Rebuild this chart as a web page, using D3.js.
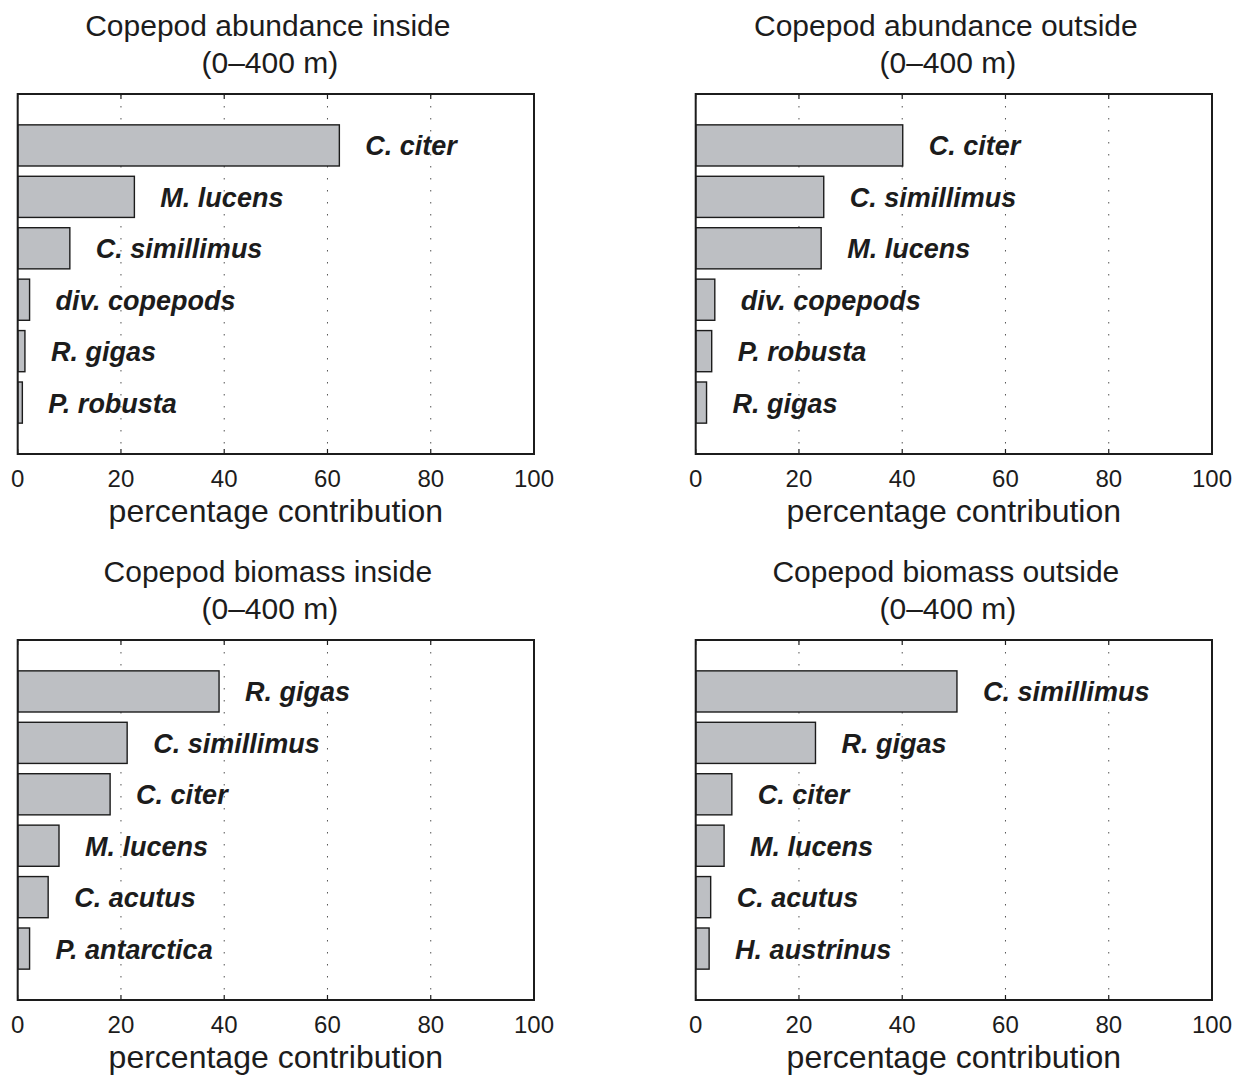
<!DOCTYPE html>
<html>
<head>
<meta charset="utf-8">
<script src="https://cdn.jsdelivr.net/npm/d3@7"></script>
<style>
  html, body { margin: 0; padding: 0; background: #fff; }
  svg { display: block; }
  text { font-family: "Liberation Sans", Arial, Helvetica, sans-serif; fill: #1c1c1c; }
</style>
</head>
<body>
<svg id="chart" width="1250" height="1077"></svg>
<script>
// Percentage contribution of copepod taxa, 0–400 m
const titles = [
  "Copepod abundance inside",
  "Copepod abundance outside",
  "Copepod biomass inside",
  "Copepod biomass outside"
];
const depthLabel = "(0\u2013400 m)";
const xLabel = "percentage contribution";
const xTicks = [0, 20, 40, 60, 80, 100];
const gridTicks = [20, 40, 60, 80];

const abundanceInsideTaxa = ["C. citer", "M. lucens", "C. simillimus", "div. copepods", "R. gigas", "P. robusta"];
const abundanceInsideValues = [62.3, 22.6, 10.1, 2.3, 1.4, 0.9];

const abundanceOutsideTaxa = ["C. citer", "C. simillimus", "M. lucens", "div. copepods", "P. robusta", "R. gigas"];
const abundanceOutsideValues = [40.1, 24.8, 24.3, 3.7, 3.1, 2.1];

const biomassInsideTaxa = ["R. gigas", "C. simillimus", "C. citer", "M. lucens", "C. acutus", "P. antarctica"];
const biomassInsideValues = [39.0, 21.2, 17.9, 8.0, 5.9, 2.3];

const biomassOutsideTaxa = ["C. simillimus", "R. gigas", "C. citer", "M. lucens", "C. acutus", "H. austrinus"];
const biomassOutsideValues = [50.6, 23.2, 7.0, 5.5, 2.9, 2.6];

const panels = [
  { title: titles[0], taxa: abundanceInsideTaxa, values: abundanceInsideValues, x0: 17.7, y0: 94 },
  { title: titles[1], taxa: abundanceOutsideTaxa, values: abundanceOutsideValues, x0: 695.7, y0: 94 },
  { title: titles[2], taxa: biomassInsideTaxa, values: biomassInsideValues, x0: 17.7, y0: 640 },
  { title: titles[3], taxa: biomassOutsideTaxa, values: biomassOutsideValues, x0: 695.7, y0: 640 }
];

const W = 516.3, H = 360;
const ink = "#1c1c1c";
const svg = d3.select("#chart");

panels.forEach(p => {
  const g = svg.append("g").attr("transform", `translate(${p.x0},${p.y0})`);
  const x = d3.scaleLinear().domain([0, 100]).range([0, W]);
  const y = d3.scaleLinear().domain([0, 7]).range([0, H]);
  const rows = p.taxa.map((t, i) => ({ taxon: t, value: p.values[i], pos: i + 1 }));

  // dotted vertical grid
  g.selectAll("line.grid").data(gridTicks).join("line")
    .attr("class", "grid")
    .attr("x1", d => x(d)).attr("x2", d => x(d))
    .attr("y1", 0).attr("y2", H)
    .attr("stroke", "#555").attr("stroke-width", 1)
    .attr("stroke-dasharray", "1.5,10.5");

  // bars
  g.selectAll("rect.bar").data(rows).join("rect")
    .attr("class", "bar")
    .attr("x", x(0))
    .attr("y", d => y(d.pos - 0.4))
    .attr("width", d => x(d.value) - x(0))
    .attr("height", d => y(d.pos + 0.4) - y(d.pos - 0.4))
    .attr("fill", "#bdbfc3")
    .attr("stroke", ink).attr("stroke-width", 1.4);

  // taxon labels
  g.selectAll("text.taxon").data(rows).join("text")
    .attr("class", "taxon")
    .attr("x", d => x(d.value) + 26)
    .attr("y", d => y(d.pos) + 10)
    .attr("font-size", 27)
    .attr("font-weight", "bold")
    .attr("font-style", "italic")
    .text(d => d.taxon);

  // inward ticks on top and bottom edges
  const tickLen = 5;
  g.selectAll("line.tb").data(xTicks).join("line")
    .attr("class", "tb")
    .attr("x1", d => x(d)).attr("x2", d => x(d))
    .attr("y1", H).attr("y2", H - tickLen)
    .attr("stroke", ink).attr("stroke-width", 1.2);
  g.selectAll("line.tt").data(xTicks).join("line")
    .attr("class", "tt")
    .attr("x1", d => x(d)).attr("x2", d => x(d))
    .attr("y1", 0).attr("y2", tickLen)
    .attr("stroke", ink).attr("stroke-width", 1.2);

  // axes box
  g.append("rect")
    .attr("x", 0).attr("y", 0).attr("width", W).attr("height", H)
    .attr("fill", "none").attr("stroke", ink).attr("stroke-width", 2);

  // tick labels
  g.selectAll("text.tick").data(xTicks).join("text")
    .attr("class", "tick")
    .attr("x", d => x(d))
    .attr("y", H + 33)
    .attr("text-anchor", "middle")
    .attr("font-size", 24)
    .text(d => d);

  // x label
  g.append("text")
    .attr("x", W / 2).attr("y", H + 68)
    .attr("text-anchor", "middle")
    .attr("font-size", 32)
    .text(xLabel);

  // title, two lines
  g.append("text")
    .attr("x", W / 2 - 8).attr("y", -58)
    .attr("text-anchor", "middle")
    .attr("font-size", 30)
    .text(p.title);
  g.append("text")
    .attr("x", W / 2 - 6).attr("y", -21)
    .attr("text-anchor", "middle")
    .attr("font-size", 30)
    .text(depthLabel);
});
</script>
</body>
</html>
